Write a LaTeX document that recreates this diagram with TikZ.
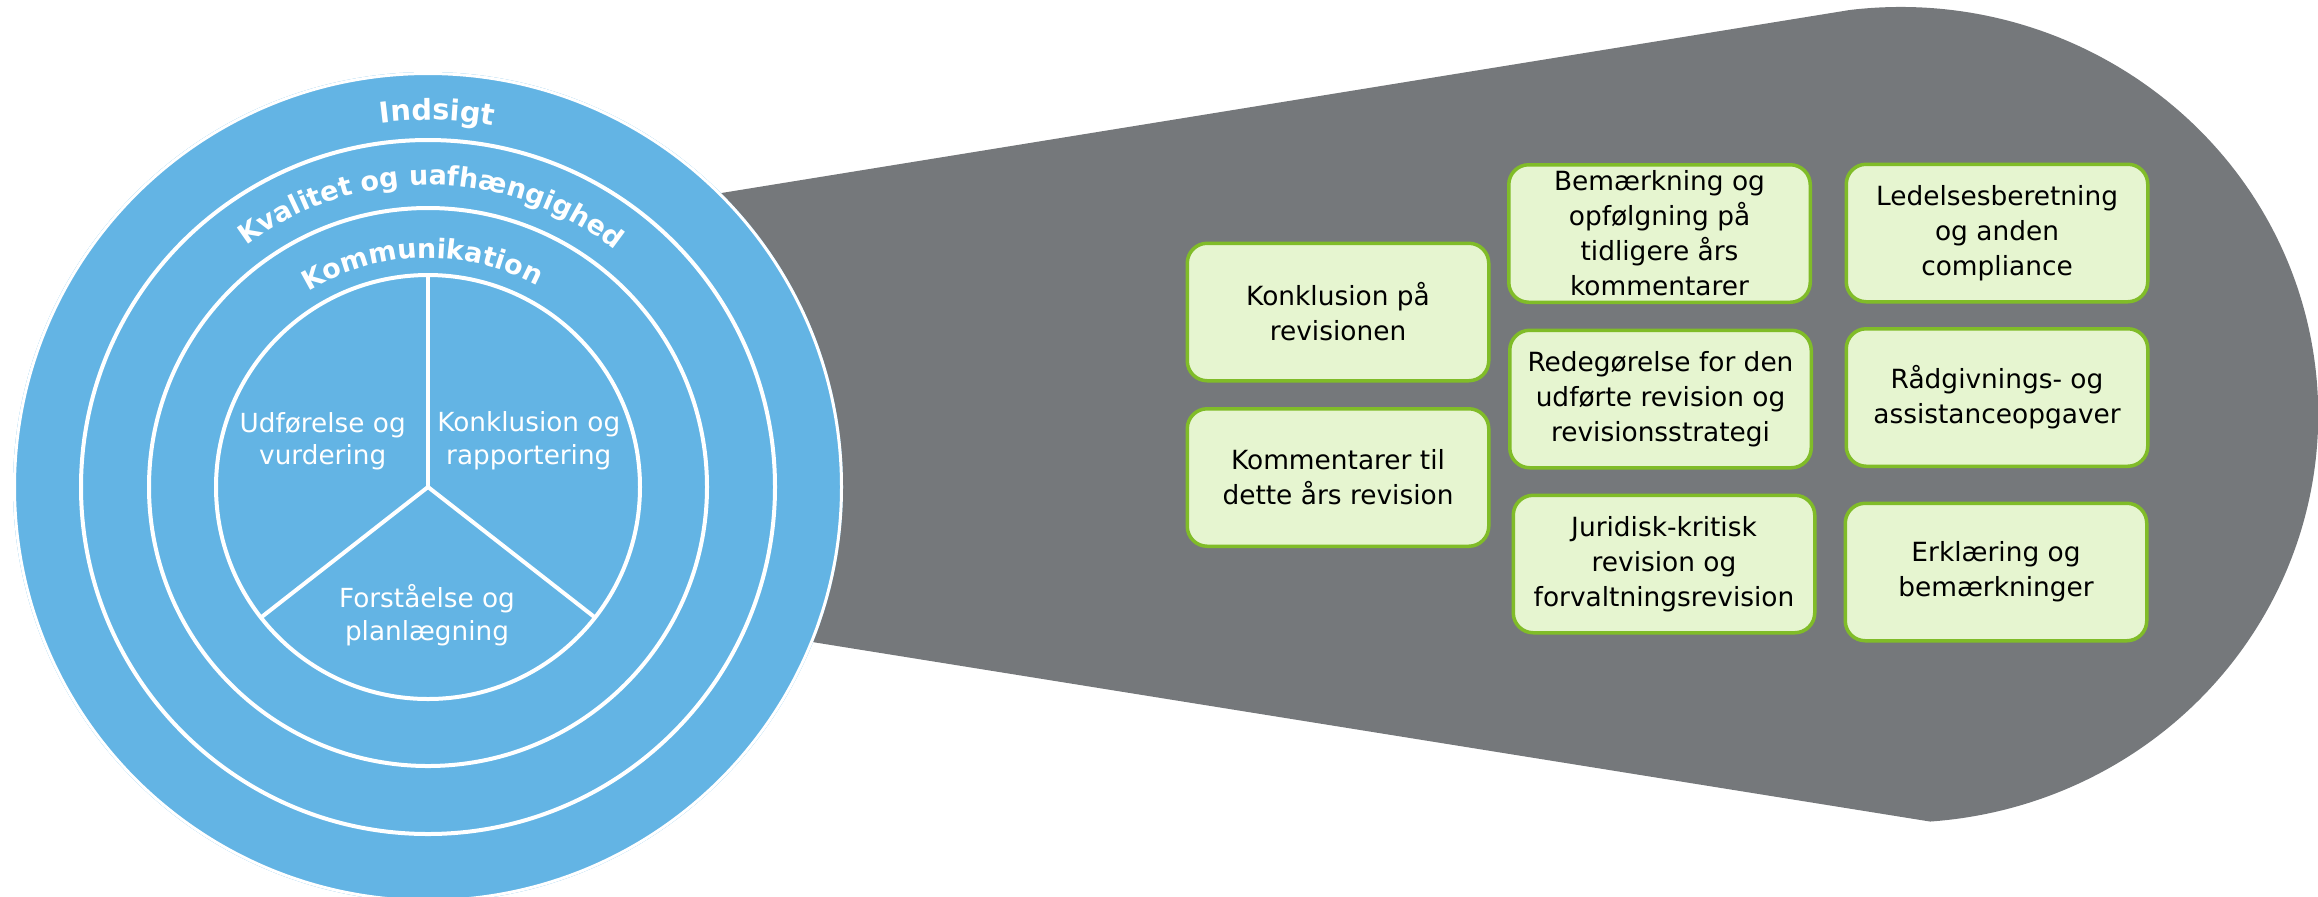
\documentclass[tikz,border=0pt]{standalone}
\usepackage{fontspec}
\setmainfont{DejaVu Sans}
\usetikzlibrary{decorations.text}
\definecolor{ringblue}{RGB}{99,180,228}
\definecolor{shapegray}{RGB}{117,120,123}
\definecolor{boxfill}{RGB}{230,245,208}
\definecolor{boxline}{RGB}{128,188,40}
\newcommand{\ringbig}{\bfseries\fontsize{14.4pt}{14.4pt}\selectfont\color{white}}
\newcommand{\ringsmall}{\bfseries\fontsize{13.5pt}{13.5pt}\selectfont\color{white}}
\begin{document}
\begin{tikzpicture}[x=0.5pt,y=0.5pt,
  infobox/.style={draw=boxline, line width=1.75pt, fill=boxfill, rounded corners=10pt,
    minimum width=150.75pt, minimum height=68.75pt, inner xsep=3pt, inner ysep=0pt,
    align=center, text=black, font=\fontsize{13.2pt}{17.5pt}\selectfont},
  pietext/.style={text=white, align=center, inner sep=0pt,
    font=\fontsize{13.15pt}{16.4pt}\selectfont},
  ringline/.style={draw=white, line width=2pt}]
\useasboundingbox (0,0) rectangle (2318,-896);
% grey magnifier shape
\coordinate (gl1) at (600,-212.7);
\coordinate (gtop) at (1850,-9.95);
\coordinate (gl2) at (600,-607.9);
\fill[shapegray] (gl1) -- (gtop)
  arc[start angle=96.9, end angle=-85.9, x radius=209pt, y radius=203.9pt]
  -- (gl2) -- cycle;
% rings
\coordinate (c) at (428,-487);
\fill[ringblue] (c) circle[radius=207.5pt];
\draw[white, line width=1.5pt] (c) circle[radius=206.75pt];
\draw[ringline] (c) circle[radius=173.5pt];
\draw[ringline] (c) circle[radius=139.5pt];
\draw[ringline] (c) circle[radius=106pt];
\draw[ringline] (c) -- ++(90:106pt);
\draw[ringline] (c) -- ++(218:106pt);
\draw[ringline] (c) -- ++(322:106pt);
% ring labels
\path[shift={(428,-487)}, decorate, decoration={text along path, text align=center,
  text={|\ringbig|Indsigt}}] (128.6:183.5pt) arc[start angle=128.6, end angle=48.6, radius=183.5pt];
\path[shift={(428,-487)}, decorate, decoration={text along path, text align=center,
  text={|\ringsmall|Kvalitet og uafhængighed}}] (149.3:151pt) arc[start angle=149.3, end angle=29.3, radius=151pt];
\path[shift={(428,-487)}, decorate, decoration={text along path, text align=center,
  text={|\ringsmall|Kommunikation}}] (151.5:114.5pt) arc[start angle=151.5, end angle=31.5, radius=114.5pt];
% pie texts
\node[pietext] (p1) at (322.7,-441.3) {Udførelse og\\vurdering};
\node[pietext] (p2) at (528.8,-440.6) {Konklusion og\\rapportering};
\node[pietext] (p3) at (427,-615) {Forståelse og\\planlægning};
% boxes
\node[infobox] (k1) at (1338,-312) {Konklusion på\\revisionen};
\node[infobox] (k2) at (1338,-477.5) {Kommentarer til\\dette års revision};
\node[infobox] (b1) at (1659.5,-233.5) {Bemærkning og\\opfølgning på\\tidligere års\\kommentarer};
\node[infobox] (b2) at (1660.5,-399) {Redegørelse for den\\udførte revision og\\revisionsstrategi};
\node[infobox] (b3) at (1664,-564) {Juridisk-kritisk\\revision og\\forvaltningsrevision};
\node[infobox] (c1) at (1997,-233) {Ledelsesberetning\\og anden\\compliance};
\node[infobox] (c2) at (1997,-397.5) {Rådgivnings- og\\assistanceopgaver};
\node[infobox] (c3) at (1996,-572) {Erklæring og\\bemærkninger};
\end{tikzpicture}
\end{document}
